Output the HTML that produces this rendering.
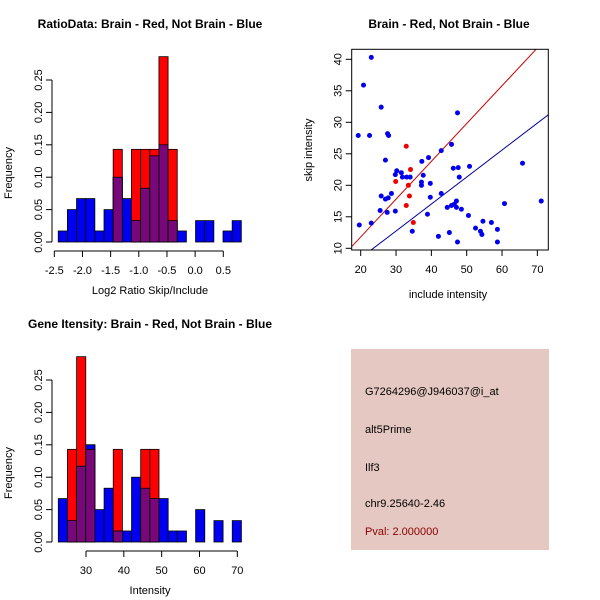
<!DOCTYPE html>
<html><head><meta charset="utf-8"><style>
body{margin:0;background:#fff;}
svg{display:block;font-family:"Liberation Sans",sans-serif;}
</style></head><body>
<svg id="c" width="600" height="600" viewBox="0 0 600 600">
<rect width="600" height="600" fill="#fff"/>
<g>
<rect x="351" y="349" width="198" height="201" fill="#e6c8c2"/>
<text x="365" y="395" font-size="11" fill="#000">G7264296@J946037@i_at</text>
<text x="365" y="433" font-size="11" fill="#000">alt5Prime</text>
<text x="365" y="471" font-size="11" fill="#000">Ilf3</text>
<text x="365" y="507" font-size="11" fill="#000">chr9.25640-2.46</text>
<text x="365" y="535" font-size="11" fill="#8b0000">Pval: 2.000000</text>
</g>
</svg>
<script>
const ratioBlue=[0.017,0.05,0.067,0.067,0.017,0.05,0.1,0.067,0.033,0.083,0.133,0.15,0.033,0.017,0,0.033,0.033,0,0.017,0.033];
const ratioRed=[0,0,0,0,0,0,0.143,0,0.143,0.143,0.143,0.286,0.143,0,0,0,0,0,0,0];
const ratioStart=-2.43, ratioBinW=0.1625;
const ratioXTicks=[-2.5,-2.0,-1.5,-1.0,-0.5,0.0,0.5];
const intBlue=[0.067,0.033,0.117,0.15,0.05,0.083,0.017,0.017,0.1,0.083,0.067,0.067,0.017,0.017,0,0.05,0,0.033,0,0.033];
const intRed=[0,0.143,0.286,0.143,0,0,0.143,0,0,0.143,0.143,0,0,0,0,0,0,0,0,0];
const intStart=22.68, intBinW=2.42;
const intXTicks=[30,40,50,60,70];
const freqTicks=[0,0.05,0.10,0.15,0.20,0.25];
const blueInc=[23.0,20.8,25.8,19.3,22.5,27.6,27.9,47.4,45.7,42.8,39.2,37.3,27.0,46.2,47.6,50.8,65.8,47.9,30.2,29.8,31.5,31.8,33.0,34.0,37.7,37.2,37.2,39.7,39.7,25.8,27.0,27.8,28.7,42.8,25.5,27.5,29.8,38.9,44.5,45.7,46.5,47.1,47.1,48.5,50.5,60.7,71.1,54.6,57.0,52.5,53.9,54.3,58.7,58.7,47.4,45.1,42.0,34.6,19.6,23.0];
const blueSkip=[40.3,35.9,32.4,27.9,27.9,28.2,27.9,31.5,26.5,25.5,24.4,23.8,24.0,22.7,22.8,23.0,23.5,21.3,22.3,21.7,22.0,21.3,21.3,21.3,21.6,20.5,20.0,20.3,18.1,18.3,17.8,18.0,18.7,18.7,16.0,15.7,15.9,15.4,16.5,16.8,17.0,17.5,16.5,16.2,15.2,17.1,17.5,14.3,14.1,13.2,12.7,12.2,13.0,11.0,11.0,12.5,11.9,12.7,13.7,14.0];
const redInc=[32.9,34.1,29.9,33.5,33.8,32.9,34.9];
const redSkip=[26.2,22.5,20.6,20.0,18.3,16.8,14.1];
const lineSlopes=[0.6,0.428];
const lineIntercepts=[-0.2,-0.09];
const scXTicks=[20,30,40,50,60,70];
const scYTicks=[10,15,20,25,30,35,40];

const NS="http://www.w3.org/2000/svg";
const svg=document.getElementById('c');
function el(tag,attrs,parent,text){const e=document.createElementNS(NS,tag);for(const k in attrs)e.setAttribute(k,attrs[k]);if(text!==undefined)e.textContent=text;(parent||svg).appendChild(e);return e;}

function hist(o){
  const g=el('g',{});
  
  
  const X=v=>o.x0+(v-o.xv0)*o.xs;
  const Y=v=>o.y0-v*o.ys;
  const n=o.blue.length;
  for(let i=0;i<n;i++){
    const a=X(o.start+i*o.bw), b=X(o.start+(i+1)*o.bw);
    const bv=o.blue[i], rv=o.red[i];
    if(bv>0){const r=el('rect',{x:a,y:Y(bv),width:b-a,height:Y(0)-Y(bv),fill:'#0000f0',stroke:'#000','stroke-width':0.8},g);
      }
    if(rv>0){const r=el('rect',{x:a,y:Y(rv),width:b-a,height:Y(0)-Y(rv),fill:'#ff0000',stroke:'#000','stroke-width':0.8},g);
      }
    if(bv>0&&rv>0){const m=Math.min(bv,rv);
      if(bv>rv){const r=el('rect',{x:a,y:Y(bv),width:b-a,height:Y(rv)-Y(bv),fill:'#0000f0',stroke:'#000','stroke-width':0.8},g);}
      const r=el('rect',{x:a,y:Y(m),width:b-a,height:Y(0)-Y(m),fill:'#78087a',stroke:'#000','stroke-width':0.8},g);
      }
  }
  const ya=el('g',{},g);
  el('line',{x1:o.yAxisX,y1:Y(0),x2:o.yAxisX,y2:Y(0.25),stroke:'#000'},ya);
  freqTicks.forEach(t=>{el('line',{x1:o.yAxisX,y1:Y(t),x2:o.yAxisX-6,y2:Y(t),stroke:'#000'},ya);
    el('text',{x:0,y:0,transform:`translate(${o.yAxisX-10},${Y(t)}) rotate(-90)`,'text-anchor':'middle','font-size':11},ya,t.toFixed(2));});
  const yt=el('text',{transform:`translate(12,${(Y(0)+Y(0.25))/2+12}) rotate(-90)`,'text-anchor':'middle','font-size':11},g,'Frequency');
  
  const xa=el('g',{},g);
  const ay=o.y0+9;
  el('line',{x1:X(o.ticks[0]),y1:ay,x2:X(o.ticks[o.ticks.length-1]),y2:ay,stroke:'#000'},xa);
  o.ticks.forEach(t=>{el('line',{x1:X(t),y1:ay,x2:X(t),y2:ay+6,stroke:'#000'},xa);
    el('text',{x:X(t),y:ay+23,'text-anchor':'middle','font-size':11},xa,o.fmt(t));});
  const xt=el('text',{x:o.xlabX,y:o.y0+52,'text-anchor':'middle','font-size':11},g,o.xlab);
  
  const tt=el('text',{x:o.titleX,y:o.titleY,'text-anchor':'middle','font-size':12,'font-weight':'bold'},g,o.title);
  
}
hist({name:'ratio-histogram',blue:ratioBlue,red:ratioRed,start:ratioStart,bw:ratioBinW,x0:54.3,xv0:-2.5,xs:56.33,y0:242,ys:648,yAxisX:52,
  ticks:ratioXTicks,fmt:t=>t.toFixed(1),xlab:'Log2 Ratio Skip/Include',xlabX:150,title:'RatioData: Brain - Red, Not Brain - Blue',titleX:150,titleY:28});
hist({name:'intensity-histogram',blue:intBlue,red:intRed,start:intStart,bw:intBinW,x0:86,xv0:30,xs:3.783,y0:542,ys:648,yAxisX:52,
  ticks:intXTicks,fmt:t=>String(t),xlab:'Intensity',xlabX:150,title:'Gene Itensity: Brain - Red, Not Brain - Blue',titleX:150,titleY:328});

(function(){
  const g=el('g',{});
  const L=351.7,R=548.3,T=49.3,B=250;
  const X=v=>360.7+(v-20)*3.533, Y=v=>248.3-(v-10)*6.3;
  const cp=el('clipPath',{id:'sc'},g);el('rect',{x:L,y:T,width:R-L,height:B-T},cp);
  const cols=['#cc0000','#000099'];
  lineSlopes.forEach((s,i)=>{const x1=15,x2=75;
    const ln=el('line',{x1:X(x1),y1:Y(lineIntercepts[i]+s*x1),x2:X(x2),y2:Y(lineIntercepts[i]+s*x2),stroke:cols[i],'stroke-width':1,'clip-path':'url(#sc)'},g);
    });
  blueInc.forEach((v,i)=>{const c=el('circle',{cx:X(v),cy:Y(blueSkip[i]),r:2.5,fill:'#0000ee'},g);
    });
  redInc.forEach((v,i)=>{const c=el('circle',{cx:X(v),cy:Y(redSkip[i]),r:2.5,fill:'#ee0000'},g);
    });
  el('rect',{x:L,y:T,width:R-L,height:B-T,fill:'none',stroke:'#000'},g);
  const xa=el('g',{},g);
  scXTicks.forEach(t=>{el('line',{x1:X(t),y1:B,x2:X(t),y2:B+6,stroke:'#000'},xa);
    el('text',{x:X(t),y:B+23,'text-anchor':'middle','font-size':11},xa,String(t));});
  const ya=el('g',{},g);
  scYTicks.forEach(t=>{el('line',{x1:L,y1:Y(t),x2:L-6,y2:Y(t),stroke:'#000'},ya);
    el('text',{transform:`translate(${L-10},${Y(t)}) rotate(-90)`,'text-anchor':'middle','font-size':11},ya,String(t));});
  const xt=el('text',{x:448,y:298,'text-anchor':'middle','font-size':11},g,'include intensity');
  
  const yt=el('text',{transform:`translate(312,150) rotate(-90)`,'text-anchor':'middle','font-size':11},g,'skip intensity');
  
  const tt=el('text',{x:449,y:28,'text-anchor':'middle','font-size':12,'font-weight':'bold'},g,'Brain - Red, Not Brain - Blue');
  
})();
</script>
</body></html>
